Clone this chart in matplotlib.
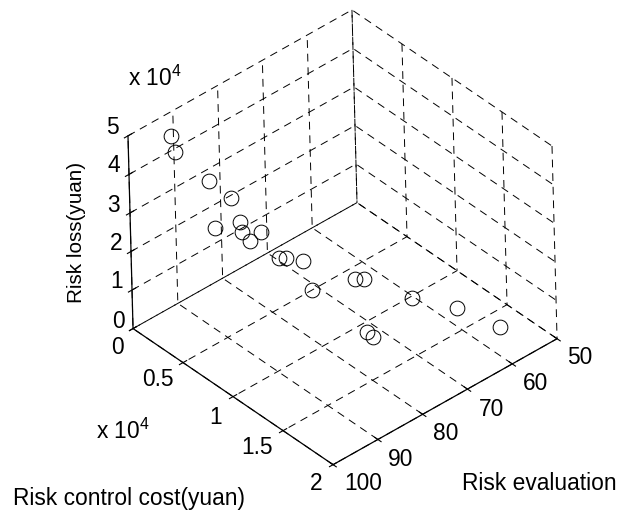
import matplotlib
matplotlib.use('Agg')
import matplotlib.pyplot as plt

plt.rcParams['font.family'] = ['Liberation Sans', 'DejaVu Sans']
plt.rcParams['mathtext.default'] = 'regular'
plt.rcParams['grid.color'] = 'black'
plt.rcParams['grid.linewidth'] = 0.7
plt.rcParams['grid.linestyle'] = (0, (8, 6))

# Data
risk_eval = [93.4, 93.1, 88.0, 85.6, 87.5, 84.7, 84.4, 83.5, 81.3, 80.4,
             79.5, 77.4, 77.4, 70.1, 69.0, 64.5, 59.5, 56.3, 74.0, 74.3]
risk_cost = [1370, 1550, 2600, 3640, 2820, 4110, 4100, 4530, 4680, 5970,
             6300, 6980, 7840, 8870, 9290, 12100, 14250, 17140, 11820, 12470]
risk_loss = [48000, 44000, 35000, 31000, 23000, 25000, 22000, 20000, 21000, 16000,
             16000, 15000, 9000, 9000, 9000, 6000, 4000, 2000, 3000, 3000]

eval_ticks = [50, 60, 70, 80, 90, 100]
cost_ticks = [0, 5000, 10000, 15000, 20000]
loss_ticks = [0, 10000, 20000, 30000, 40000, 50000]
eval_labels = ['50', '60', '70', '80', '90', '100']
cost_labels = ['0', '0.5', '1', '1.5', '2']
loss_labels = ['0', '1', '2', '3', '4', '5']

W, H = 617, 512
fig = plt.figure(figsize=(W / 100, H / 100), dpi=100)
ax = fig.add_axes([79.6 / W, 11.8 / H, 512 / W, 512 / H], projection='3d')
ax.set_proj_type('ortho')
ax.view_init(elev=38.06, azim=49.4, roll=1.5)
ax.set_box_aspect((299.4, 302, 245), zoom=0.93)
ax.patch.set_alpha(0)

ax.plot(risk_eval, risk_cost, risk_loss, 'o', mfc='none', mec='black', ms=10.6, mew=0.7)

ax.set_xlim(50, 100, view_margin=0)
ax.set_ylim(0, 20000, view_margin=0)
ax.set_zlim(0, 50000, view_margin=0)
ax.set_xticks(eval_ticks)
ax.set_yticks(cost_ticks)
ax.set_zticks(loss_ticks)
ax.set_xticklabels([])
ax.set_yticklabels([])
ax.set_zticklabels([])

for axis in [ax.xaxis, ax.yaxis, ax.zaxis]:
    axis.set_pane_color((1, 1, 1, 0))
    axis.pane.set_edgecolor('none')
    axis.line.set_color('black')
    axis.line.set_linewidth(0.9)
    axis._axinfo['tick']['inward_factor'] = 0.2
    axis._axinfo['tick']['outward_factor'] = 0.2
    axis._axinfo['tick']['linewidth'] = {True: 0.8, False: 0.8}
    axis._axinfo['tick']['color'] = 'black'
ax.zaxis.set_ticks_position('lower')


def put(px, py, s, size=16.4, **kw):
    fig.text(px / W, 1 - py / H, s, fontsize=size, ha='center', va='center', **kw)


# tick labels
for px, py, s in zip([580, 536, 491, 446, 401, 363], [358, 384, 409, 433, 459, 484], eval_labels):
    put(px, py, s)
for px, py, s in zip([117, 158, 216, 257, 316], [347, 380, 417, 448, 483], cost_labels):
    put(px, py, s)
for px, py, s in zip([118, 117, 116, 114, 114, 112], [321, 281, 243, 205, 165, 127], loss_labels):
    put(px, py, s)

put(155, 78, r'x 10$^4$')
put(123, 431, r'x 10$^4$')
put(129, 498, 'Risk control cost(yuan)')
put(539, 484, 'Risk evaluation')
put(77, 232, 'Risk loss(yuan)', size=14.9, rotation=90)

fig.savefig('out.png', dpi=100)
